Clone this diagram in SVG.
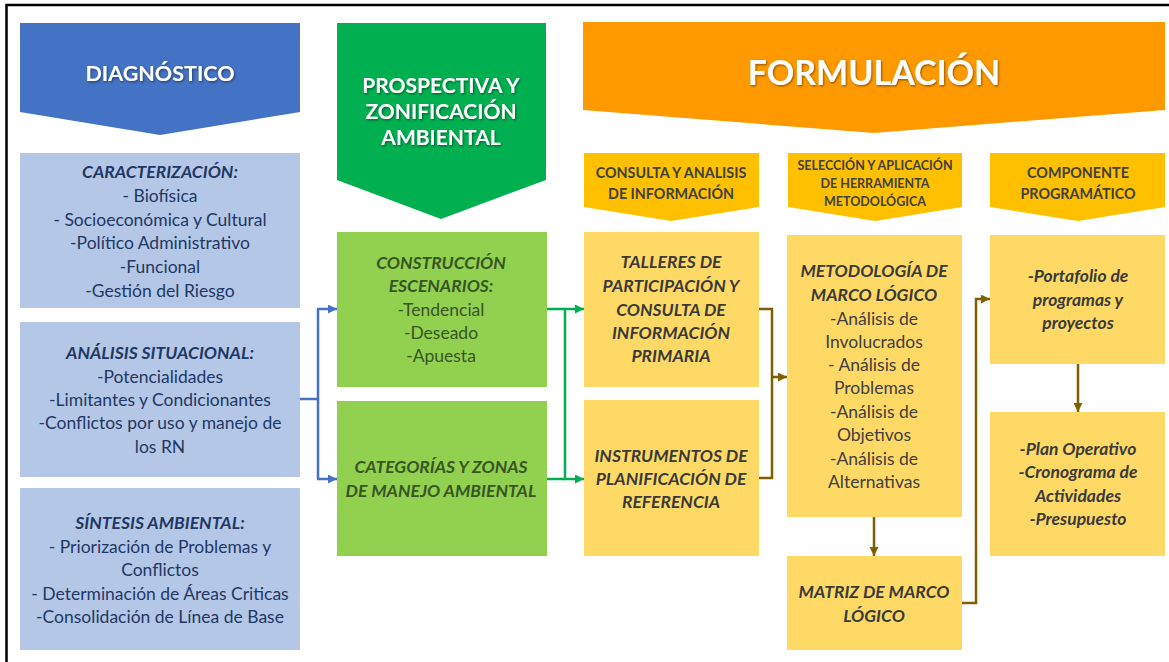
<svg xmlns="http://www.w3.org/2000/svg" width="1169" height="662" viewBox="0 0 1169 662">
<style>
.hdr{font-family:Lato,"Open Sans",sans-serif;font-weight:700;fill:#fff;text-anchor:middle}
.sub{font-family:Lato,"Open Sans",sans-serif;font-weight:700;fill:#404040;text-anchor:middle}
.bt{font-family:Lato,"Open Sans",sans-serif;font-size:17.5px;text-anchor:middle}
.ti{font-weight:700;font-style:italic}
.navy{fill:#1F3864}
.dg{fill:#375623}
.gy{fill:#404040}
.gyb{fill:#3A3A3A;font-weight:700;font-style:italic}
.cb{fill:none;stroke:#4472C4;stroke-width:2.5}
.cg{fill:none;stroke:#00B050;stroke-width:2.5}
.cr{fill:none;stroke:#7F6000;stroke-width:2.5}
</style>
<defs>
<filter id="sh" x="-10%" y="-30%" width="120%" height="160%">
<feDropShadow dx="1" dy="1.2" stdDeviation="0.8" flood-color="#000" flood-opacity="0.45"/>
</filter>
<marker id="ab" markerUnits="userSpaceOnUse" markerWidth="9" markerHeight="9" refX="9" refY="4.5" orient="auto"><path d="M0,0 L9,4.5 L0,9 z" fill="#4472C4"/></marker>
<marker id="ag" markerUnits="userSpaceOnUse" markerWidth="9" markerHeight="9" refX="9" refY="4.5" orient="auto"><path d="M0,0 L9,4.5 L0,9 z" fill="#00B050"/></marker>
<marker id="ar" markerUnits="userSpaceOnUse" markerWidth="9" markerHeight="9" refX="9" refY="4.5" orient="auto"><path d="M0,0 L9,4.5 L0,9 z" fill="#7F6000"/></marker>
</defs>
<rect width="1169" height="662" fill="#fff"/>
<path d="M6.5,662 V5 H1169" fill="none" stroke="#000" stroke-width="2.5"/>

<g id="diagnostico">
<polygon points="20,23 300,23 300,112 160,135 20,112" fill="#4472C4"/>
<text class="hdr" x="160" y="81" font-size="21.5" filter="url(#sh)">DIAGNÓSTICO</text>
</g>
<g id="prospectiva">
<polygon points="337,23 546,23 546,180 441,219 337,180" fill="#00B050"/>
<text class="hdr" font-size="21" filter="url(#sh)"><tspan x="441" y="93">PROSPECTIVA Y</tspan><tspan x="441" y="119">ZONIFICACIÓN</tspan><tspan x="441" y="145">AMBIENTAL</tspan></text>
</g>
<g id="formulacion">
<polygon points="583,22 1165,22 1165,110 874,133 583,110" fill="#FF9900"/>
<text class="hdr" x="874" y="85" font-size="34" filter="url(#sh)">FORMULACIÓN</text>
</g>
<g id="consulta">
<polygon points="584,153 759,153 759,207 671,221 584,207" fill="#FFC000"/>
<text class="sub" font-size="14.3"><tspan x="671" y="178">CONSULTA Y ANALISIS</tspan><tspan x="671" y="199">DE INFORMACIÓN</tspan></text>
</g>
<g id="seleccion">
<polygon points="788,153 962,153 962,207 875,221 788,207" fill="#FFC000"/>
<text class="sub" font-size="12.5"><tspan x="875" y="170">SELECCIÓN Y APLICACIÓN</tspan><tspan x="875" y="188">DE HERRAMIENTA</tspan><tspan x="875" y="206">METODOLÓGICA</tspan></text>
</g>
<g id="componente">
<polygon points="990,153 1165,153 1165,207 1078,221 990,207" fill="#FFC000"/>
<text class="sub" font-size="14.3"><tspan x="1078" y="178">COMPONENTE</tspan><tspan x="1078" y="199">PROGRAMÁTICO</tspan></text>
</g>

<g id="caracterizacion">
<rect x="20" y="153" width="280" height="155" fill="#B4C7E7"/>
<text class="bt navy"><tspan class="ti" x="160" y="178">CARACTERIZACIÓN:</tspan><tspan x="160" y="202">- Biofísica</tspan><tspan x="160" y="226">- Socioeconómica y Cultural</tspan><tspan x="160" y="249">-Político Administrativo</tspan><tspan x="160" y="273">-Funcional</tspan><tspan x="160" y="297">-Gestión del Riesgo</tspan></text>
</g>
<g id="analisis">
<rect x="20" y="322" width="280" height="155" fill="#B4C7E7"/>
<text class="bt navy"><tspan class="ti" x="160" y="359">ANÁLISIS SITUACIONAL:</tspan><tspan x="160" y="383">-Potencialidades</tspan><tspan x="160" y="406">-Limitantes y Condicionantes</tspan><tspan x="160" y="429">-Conflictos por uso y manejo de</tspan><tspan x="160" y="453">los RN</tspan></text>
</g>
<g id="sintesis">
<rect x="20" y="488" width="280" height="162" fill="#B4C7E7"/>
<text class="bt navy"><tspan class="ti" x="160" y="529">SÍNTESIS AMBIENTAL:</tspan><tspan x="160" y="553">- Priorización de Problemas y</tspan><tspan x="160" y="576">Conflictos</tspan><tspan x="160" y="600">- Determinación de Áreas Criticas</tspan><tspan x="160" y="623">-Consolidación de Línea de Base</tspan></text>
</g>

<g id="construccion">
<rect x="337" y="232" width="210" height="155" fill="#92D050"/>
<text class="bt dg"><tspan class="ti" x="441" y="269">CONSTRUCCIÓN</tspan><tspan class="ti" x="441" y="292">ESCENARIOS:</tspan><tspan x="441" y="316">-Tendencial</tspan><tspan x="441" y="339">-Deseado</tspan><tspan x="441" y="362">-Apuesta</tspan></text>
</g>
<g id="categorias">
<rect x="337" y="401" width="210" height="155" fill="#92D050"/>
<text class="bt dg ti"><tspan x="441" y="473">CATEGORÍAS Y ZONAS</tspan><tspan x="441" y="497">DE MANEJO AMBIENTAL</tspan></text>
</g>

<g id="talleres">
<rect x="584" y="232" width="175" height="155" fill="#FFD966"/>
<text class="bt gyb"><tspan x="671" y="268">TALLERES DE</tspan><tspan x="671" y="292">PARTICIPACIÓN Y</tspan><tspan x="671" y="316">CONSULTA DE</tspan><tspan x="671" y="339">INFORMACIÓN</tspan><tspan x="671" y="362">PRIMARIA</tspan></text>
</g>
<g id="instrumentos">
<rect x="584" y="400" width="175" height="156" fill="#FFD966"/>
<text class="bt gyb"><tspan x="671" y="462">INSTRUMENTOS DE</tspan><tspan x="671" y="485">PLANIFICACIÓN DE</tspan><tspan x="671" y="508">REFERENCIA</tspan></text>
</g>
<g id="metodologia">
<rect x="787" y="235" width="175" height="282" fill="#FFD966"/>
<text class="bt gy"><tspan class="ti" x="874" y="277" fill="#3A3A3A">METODOLOGÍA DE</tspan><tspan class="ti" x="874" y="301" fill="#3A3A3A">MARCO LÓGICO</tspan><tspan x="874" y="325">-Análisis de</tspan><tspan x="874" y="348">Involucrados</tspan><tspan x="874" y="371">- Análisis de</tspan><tspan x="874" y="394">Problemas</tspan><tspan x="874" y="418">-Análisis de</tspan><tspan x="874" y="441">Objetivos</tspan><tspan x="874" y="465">-Análisis de</tspan><tspan x="874" y="488">Alternativas</tspan></text>
</g>
<g id="matriz">
<rect x="787" y="556" width="175" height="94" fill="#FFD966"/>
<text class="bt gyb"><tspan x="874" y="598">MATRIZ DE MARCO</tspan><tspan x="874" y="622">LÓGICO</tspan></text>
</g>
<g id="portafolio">
<rect x="990" y="235" width="175" height="129" fill="#FFD966"/>
<text class="bt gyb"><tspan x="1078" y="282">-Portafolio de</tspan><tspan x="1078" y="306">programas y</tspan><tspan x="1078" y="329">proyectos</tspan></text>
</g>
<g id="plan">
<rect x="990" y="412" width="175" height="144" fill="#FFD966"/>
<text class="bt gyb"><tspan x="1078" y="455">-Plan Operativo</tspan><tspan x="1078" y="478">-Cronograma de</tspan><tspan x="1078" y="502">Actividades</tspan><tspan x="1078" y="525">-Presupuesto</tspan></text>
</g>

<g id="connectors">
<path class="cb" d="M300,399 H318 M318,309 V479"/>
<path class="cb" d="M317,309 H337" marker-end="url(#ab)"/>
<path class="cb" d="M317,479 H337" marker-end="url(#ab)"/>
<path class="cg" d="M547,309 H565 M547,479 H565 M565,309 V479"/>
<path class="cg" d="M564,309 H584" marker-end="url(#ag)"/>
<path class="cg" d="M564,479 H584" marker-end="url(#ag)"/>
<path class="cr" d="M759,309 H772 V478 H759"/>
<path class="cr" d="M771,377 H787" marker-end="url(#ar)"/>
<path class="cr" d="M874,517 V556" marker-end="url(#ar)"/>
<path class="cr" d="M962,603 H976 V299 H990" marker-end="url(#ar)"/>
<path class="cr" d="M1078,364 V412" marker-end="url(#ar)"/>
</g>
</svg>
